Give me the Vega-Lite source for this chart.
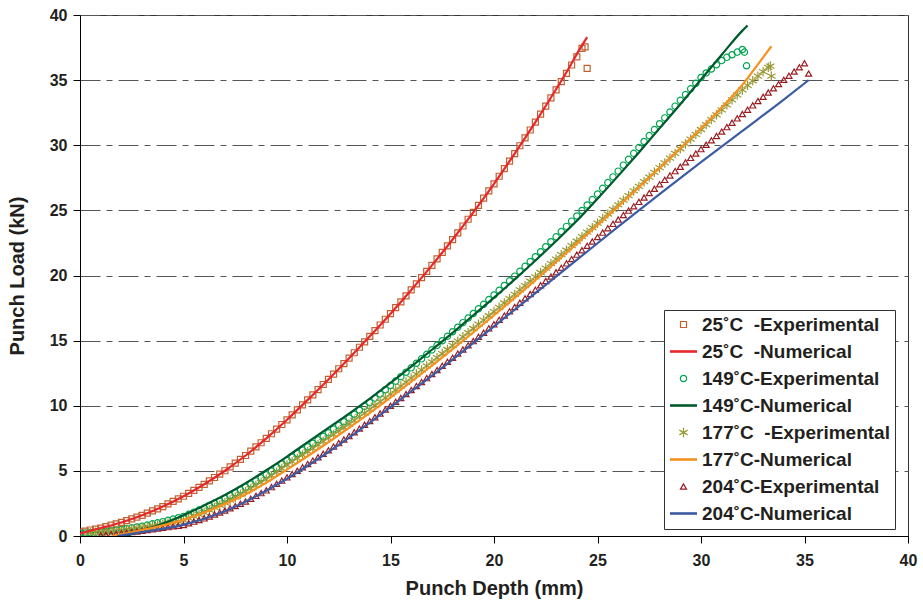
{
"$schema":"https://vega.github.io/schema/vega-lite/v6.json",
"width":828,"height":521,"autosize":"none",
"padding":{"left":80,"top":15,"right":15,"bottom":69},
"background":"white",
"config":{"font":"Liberation Sans","view":{"stroke":"#333","strokeWidth":1},
"axis":{"domainColor":"#000","tickColor":"#000","tickSize":7,"labelColor":"#231f20","titleColor":"#231f20","labelFontSize":16,"labelFontWeight":"bold","titleFontSize":20,"titleFontWeight":"bold","labelFont":"Liberation Sans","titleFont":"Liberation Sans"},
"legend":{"orient":"none","legendX":584,"legendY":295,"padding":5,"rowPadding":7,"symbolOffset":5,"labelOffset":9,"strokeColor":"#333","fillColor":"white","labelFontSize":19,"labelFontWeight":"bold","labelColor":"#231f20","labelLimit":400,"labelFont":"Liberation Sans"}},
"datasets":{
"exp":[
{"s":"a","x":0,"y":0.30},{"s":"a","x":0.25,"y":0.38},{"s":"a","x":0.5,"y":0.46},{"s":"a","x":0.75,"y":0.53},{"s":"a","x":1,"y":0.61},{"s":"a","x":1.25,"y":0.72},{"s":"a","x":1.5,"y":0.83},{"s":"a","x":1.75,"y":0.93},{"s":"a","x":2,"y":1.04},{"s":"a","x":2.25,"y":1.18},{"s":"a","x":2.5,"y":1.32},{"s":"a","x":2.75,"y":1.45},{"s":"a","x":3,"y":1.59},{"s":"a","x":3.25,"y":1.76},{"s":"a","x":3.5,"y":1.93},{"s":"a","x":3.75,"y":2.09},{"s":"a","x":4,"y":2.26},{"s":"a","x":4.25,"y":2.46},{"s":"a","x":4.5,"y":2.66},{"s":"a","x":4.75,"y":2.85},{"s":"a","x":5,"y":3.05},{"s":"a","x":5.25,"y":3.28},{"s":"a","x":5.5,"y":3.51},{"s":"a","x":5.75,"y":3.74},{"s":"a","x":6,"y":3.97},{"s":"a","x":6.25,"y":4.23},{"s":"a","x":6.5,"y":4.49},{"s":"a","x":6.75,"y":4.75},{"s":"a","x":7,"y":5.01},{"s":"a","x":7.25,"y":5.30},{"s":"a","x":7.5,"y":5.60},{"s":"a","x":7.75,"y":5.89},{"s":"a","x":8,"y":6.18},{"s":"a","x":8.25,"y":6.51},{"s":"a","x":8.5,"y":6.84},{"s":"a","x":8.75,"y":7.16},{"s":"a","x":9,"y":7.49},{"s":"a","x":9.25,"y":7.85},{"s":"a","x":9.5,"y":8.21},{"s":"a","x":9.75,"y":8.56},{"s":"a","x":10,"y":8.92},{"s":"a","x":10.25,"y":9.30},{"s":"a","x":10.5,"y":9.69},{"s":"a","x":10.75,"y":10.07},{"s":"a","x":11,"y":10.45},{"s":"a","x":11.25,"y":10.84},{"s":"a","x":11.5,"y":11.24},{"s":"a","x":11.75,"y":11.63},{"s":"a","x":12,"y":12.02},{"s":"a","x":12.25,"y":12.43},{"s":"a","x":12.5,"y":12.84},{"s":"a","x":12.75,"y":13.24},{"s":"a","x":13,"y":13.65},{"s":"a","x":13.25,"y":14.07},{"s":"a","x":13.5,"y":14.49},{"s":"a","x":13.75,"y":14.91},{"s":"a","x":14,"y":15.33},{"s":"a","x":14.25,"y":15.77},{"s":"a","x":14.5,"y":16.20},{"s":"a","x":14.75,"y":16.64},{"s":"a","x":15,"y":17.07},{"s":"a","x":15.25,"y":17.53},{"s":"a","x":15.5,"y":17.98},{"s":"a","x":15.75,"y":18.44},{"s":"a","x":16,"y":18.89},{"s":"a","x":16.25,"y":19.36},{"s":"a","x":16.5,"y":19.84},{"s":"a","x":16.75,"y":20.31},{"s":"a","x":17,"y":20.78},{"s":"a","x":17.25,"y":21.28},{"s":"a","x":17.5,"y":21.77},{"s":"a","x":17.75,"y":22.27},{"s":"a","x":18,"y":22.76},{"s":"a","x":18.25,"y":23.28},{"s":"a","x":18.5,"y":23.80},{"s":"a","x":18.75,"y":24.32},{"s":"a","x":19,"y":24.84},{"s":"a","x":19.25,"y":25.39},{"s":"a","x":19.5,"y":25.94},{"s":"a","x":19.75,"y":26.49},{"s":"a","x":20,"y":27.04},{"s":"a","x":20.25,"y":27.62},{"s":"a","x":20.5,"y":28.20},{"s":"a","x":20.75,"y":28.78},{"s":"a","x":21,"y":29.36},{"s":"a","x":21.25,"y":29.96},{"s":"a","x":21.5,"y":30.57},{"s":"a","x":21.75,"y":31.17},{"s":"a","x":22,"y":31.77},{"s":"a","x":22.25,"y":32.39},{"s":"a","x":22.5,"y":33.01},{"s":"a","x":22.75,"y":33.63},{"s":"a","x":23,"y":34.25},{"s":"a","x":23.25,"y":34.89},{"s":"a","x":23.5,"y":35.52},{"s":"a","x":23.75,"y":36.16},{"s":"a","x":24,"y":36.79},{"s":"a","x":24.25,"y":37.43},{"s":"a","x":24.4,"y":37.55},{"s":"a","x":24.5,"y":35.9},
{"s":"c","x":0,"y":0.20},{"s":"c","x":0.25,"y":0.23},{"s":"c","x":0.5,"y":0.25},{"s":"c","x":0.75,"y":0.28},{"s":"c","x":1,"y":0.30},{"s":"c","x":1.25,"y":0.35},{"s":"c","x":1.5,"y":0.40},{"s":"c","x":1.75,"y":0.45},{"s":"c","x":2,"y":0.50},{"s":"c","x":2.25,"y":0.56},{"s":"c","x":2.5,"y":0.63},{"s":"c","x":2.75,"y":0.69},{"s":"c","x":3,"y":0.75},{"s":"c","x":3.25,"y":0.84},{"s":"c","x":3.5,"y":0.93},{"s":"c","x":3.75,"y":1.01},{"s":"c","x":4,"y":1.10},{"s":"c","x":4.25,"y":1.20},{"s":"c","x":4.5,"y":1.30},{"s":"c","x":4.75,"y":1.40},{"s":"c","x":5,"y":1.50},{"s":"c","x":5.25,"y":1.66},{"s":"c","x":5.5,"y":1.83},{"s":"c","x":5.75,"y":1.99},{"s":"c","x":6,"y":2.15},{"s":"c","x":6.25,"y":2.34},{"s":"c","x":6.5,"y":2.53},{"s":"c","x":6.75,"y":2.71},{"s":"c","x":7,"y":2.90},{"s":"c","x":7.25,"y":3.11},{"s":"c","x":7.5,"y":3.33},{"s":"c","x":7.75,"y":3.54},{"s":"c","x":8,"y":3.75},{"s":"c","x":8.25,"y":3.99},{"s":"c","x":8.5,"y":4.23},{"s":"c","x":8.75,"y":4.46},{"s":"c","x":9,"y":4.70},{"s":"c","x":9.25,"y":4.98},{"s":"c","x":9.5,"y":5.25},{"s":"c","x":9.75,"y":5.53},{"s":"c","x":10,"y":5.80},{"s":"c","x":10.25,"y":6.06},{"s":"c","x":10.5,"y":6.33},{"s":"c","x":10.75,"y":6.59},{"s":"c","x":11,"y":6.85},{"s":"c","x":11.25,"y":7.12},{"s":"c","x":11.5,"y":7.39},{"s":"c","x":11.75,"y":7.66},{"s":"c","x":12,"y":7.93},{"s":"c","x":12.25,"y":8.21},{"s":"c","x":12.5,"y":8.49},{"s":"c","x":12.75,"y":8.77},{"s":"c","x":13,"y":9.05},{"s":"c","x":13.25,"y":9.35},{"s":"c","x":13.5,"y":9.65},{"s":"c","x":13.75,"y":9.95},{"s":"c","x":14,"y":10.25},{"s":"c","x":14.25,"y":10.58},{"s":"c","x":14.5,"y":10.90},{"s":"c","x":14.75,"y":11.23},{"s":"c","x":15,"y":11.55},{"s":"c","x":15.25,"y":11.89},{"s":"c","x":15.5,"y":12.23},{"s":"c","x":15.75,"y":12.57},{"s":"c","x":16,"y":12.91},{"s":"c","x":16.25,"y":13.26},{"s":"c","x":16.5,"y":13.60},{"s":"c","x":16.75,"y":13.95},{"s":"c","x":17,"y":14.29},{"s":"c","x":17.25,"y":14.64},{"s":"c","x":17.5,"y":14.99},{"s":"c","x":17.75,"y":15.33},{"s":"c","x":18,"y":15.68},{"s":"c","x":18.25,"y":16.03},{"s":"c","x":18.5,"y":16.38},{"s":"c","x":18.75,"y":16.73},{"s":"c","x":19,"y":17.08},{"s":"c","x":19.25,"y":17.44},{"s":"c","x":19.5,"y":17.79},{"s":"c","x":19.75,"y":18.15},{"s":"c","x":20,"y":18.50},{"s":"c","x":20.25,"y":18.86},{"s":"c","x":20.5,"y":19.23},{"s":"c","x":20.75,"y":19.59},{"s":"c","x":21,"y":19.95},{"s":"c","x":21.25,"y":20.32},{"s":"c","x":21.5,"y":20.70},{"s":"c","x":21.75,"y":21.07},{"s":"c","x":22,"y":21.44},{"s":"c","x":22.25,"y":21.82},{"s":"c","x":22.5,"y":22.21},{"s":"c","x":22.75,"y":22.59},{"s":"c","x":23,"y":22.97},{"s":"c","x":23.25,"y":23.37},{"s":"c","x":23.5,"y":23.77},{"s":"c","x":23.75,"y":24.17},{"s":"c","x":24,"y":24.57},{"s":"c","x":24.25,"y":24.99},{"s":"c","x":24.5,"y":25.41},{"s":"c","x":24.75,"y":25.83},{"s":"c","x":25,"y":26.25},{"s":"c","x":25.25,"y":26.69},{"s":"c","x":25.5,"y":27.13},{"s":"c","x":25.75,"y":27.57},{"s":"c","x":26,"y":28.01},{"s":"c","x":26.25,"y":28.47},{"s":"c","x":26.5,"y":28.92},{"s":"c","x":26.75,"y":29.38},{"s":"c","x":27,"y":29.83},{"s":"c","x":27.25,"y":30.29},{"s":"c","x":27.5,"y":30.74},{"s":"c","x":27.75,"y":31.20},{"s":"c","x":28,"y":31.65},{"s":"c","x":28.25,"y":32.10},{"s":"c","x":28.5,"y":32.55},{"s":"c","x":28.75,"y":33.00},{"s":"c","x":29,"y":33.45},{"s":"c","x":29.25,"y":33.89},{"s":"c","x":29.5,"y":34.33},{"s":"c","x":29.75,"y":34.76},{"s":"c","x":30,"y":35.20},{"s":"c","x":30.25,"y":35.55},{"s":"c","x":30.5,"y":35.85},{"s":"c","x":30.75,"y":36.18},{"s":"c","x":31,"y":36.50},{"s":"c","x":31.25,"y":36.75},{"s":"c","x":31.5,"y":36.95},{"s":"c","x":31.75,"y":37.15},{"s":"c","x":32,"y":37.35},{"s":"c","x":32.1,"y":37.15},{"s":"c","x":32.2,"y":36.10},
{"s":"e","x":0.5,"y":0.25},{"s":"e","x":0.75,"y":0.28},{"s":"e","x":1,"y":0.30},{"s":"e","x":1.25,"y":0.34},{"s":"e","x":1.5,"y":0.38},{"s":"e","x":1.75,"y":0.41},{"s":"e","x":2,"y":0.45},{"s":"e","x":2.25,"y":0.50},{"s":"e","x":2.5,"y":0.55},{"s":"e","x":2.75,"y":0.60},{"s":"e","x":3,"y":0.65},{"s":"e","x":3.25,"y":0.71},{"s":"e","x":3.5,"y":0.78},{"s":"e","x":3.75,"y":0.84},{"s":"e","x":4,"y":0.90},{"s":"e","x":4.25,"y":0.98},{"s":"e","x":4.5,"y":1.05},{"s":"e","x":4.75,"y":1.13},{"s":"e","x":5,"y":1.20},{"s":"e","x":5.25,"y":1.35},{"s":"e","x":5.5,"y":1.50},{"s":"e","x":5.75,"y":1.65},{"s":"e","x":6,"y":1.80},{"s":"e","x":6.25,"y":1.99},{"s":"e","x":6.5,"y":2.18},{"s":"e","x":6.75,"y":2.36},{"s":"e","x":7,"y":2.55},{"s":"e","x":7.25,"y":2.76},{"s":"e","x":7.5,"y":2.98},{"s":"e","x":7.75,"y":3.19},{"s":"e","x":8,"y":3.40},{"s":"e","x":8.25,"y":3.64},{"s":"e","x":8.5,"y":3.88},{"s":"e","x":8.75,"y":4.11},{"s":"e","x":9,"y":4.35},{"s":"e","x":9.25,"y":4.63},{"s":"e","x":9.5,"y":4.90},{"s":"e","x":9.75,"y":5.18},{"s":"e","x":10,"y":5.45},{"s":"e","x":10.25,"y":5.71},{"s":"e","x":10.5,"y":5.96},{"s":"e","x":10.75,"y":6.22},{"s":"e","x":11,"y":6.47},{"s":"e","x":11.25,"y":6.73},{"s":"e","x":11.5,"y":7.00},{"s":"e","x":11.75,"y":7.26},{"s":"e","x":12,"y":7.52},{"s":"e","x":12.25,"y":7.79},{"s":"e","x":12.5,"y":8.06},{"s":"e","x":12.75,"y":8.33},{"s":"e","x":13,"y":8.60},{"s":"e","x":13.25,"y":8.88},{"s":"e","x":13.5,"y":9.16},{"s":"e","x":13.75,"y":9.44},{"s":"e","x":14,"y":9.72},{"s":"e","x":14.25,"y":10.02},{"s":"e","x":14.5,"y":10.31},{"s":"e","x":14.75,"y":10.61},{"s":"e","x":15,"y":10.90},{"s":"e","x":15.25,"y":11.21},{"s":"e","x":15.5,"y":11.51},{"s":"e","x":15.75,"y":11.82},{"s":"e","x":16,"y":12.12},{"s":"e","x":16.25,"y":12.43},{"s":"e","x":16.5,"y":12.75},{"s":"e","x":16.75,"y":13.06},{"s":"e","x":17,"y":13.37},{"s":"e","x":17.25,"y":13.69},{"s":"e","x":17.5,"y":14.01},{"s":"e","x":17.75,"y":14.32},{"s":"e","x":18,"y":14.64},{"s":"e","x":18.25,"y":14.96},{"s":"e","x":18.5,"y":15.29},{"s":"e","x":18.75,"y":15.61},{"s":"e","x":19,"y":15.93},{"s":"e","x":19.25,"y":16.26},{"s":"e","x":19.5,"y":16.58},{"s":"e","x":19.75,"y":16.91},{"s":"e","x":20,"y":17.23},{"s":"e","x":20.25,"y":17.56},{"s":"e","x":20.5,"y":17.89},{"s":"e","x":20.75,"y":18.22},{"s":"e","x":21,"y":18.55},{"s":"e","x":21.25,"y":18.89},{"s":"e","x":21.5,"y":19.22},{"s":"e","x":21.75,"y":19.56},{"s":"e","x":22,"y":19.89},{"s":"e","x":22.25,"y":20.23},{"s":"e","x":22.5,"y":20.57},{"s":"e","x":22.75,"y":20.91},{"s":"e","x":23,"y":21.25},{"s":"e","x":23.25,"y":21.60},{"s":"e","x":23.5,"y":21.94},{"s":"e","x":23.75,"y":22.29},{"s":"e","x":24,"y":22.63},{"s":"e","x":24.25,"y":22.98},{"s":"e","x":24.5,"y":23.33},{"s":"e","x":24.75,"y":23.67},{"s":"e","x":25,"y":24.02},{"s":"e","x":25.25,"y":24.37},{"s":"e","x":25.5,"y":24.72},{"s":"e","x":25.75,"y":25.07},{"s":"e","x":26,"y":25.42},{"s":"e","x":26.25,"y":25.78},{"s":"e","x":26.5,"y":26.13},{"s":"e","x":26.75,"y":26.49},{"s":"e","x":27,"y":26.84},{"s":"e","x":27.25,"y":27.20},{"s":"e","x":27.5,"y":27.56},{"s":"e","x":27.75,"y":27.92},{"s":"e","x":28,"y":28.28},{"s":"e","x":28.25,"y":28.64},{"s":"e","x":28.5,"y":29.01},{"s":"e","x":28.75,"y":29.37},{"s":"e","x":29,"y":29.73},{"s":"e","x":29.25,"y":30.10},{"s":"e","x":29.5,"y":30.47},{"s":"e","x":29.75,"y":30.84},{"s":"e","x":30,"y":31.21},{"s":"e","x":30.25,"y":31.59},{"s":"e","x":30.5,"y":31.97},{"s":"e","x":30.75,"y":32.34},{"s":"e","x":31,"y":32.72},{"s":"e","x":31.25,"y":33.10},{"s":"e","x":31.5,"y":33.49},{"s":"e","x":31.75,"y":33.87},{"s":"e","x":32,"y":34.25},{"s":"e","x":32.25,"y":34.60},{"s":"e","x":32.5,"y":34.95},{"s":"e","x":32.75,"y":35.30},{"s":"e","x":33,"y":35.65},{"s":"e","x":33.25,"y":35.98},{"s":"e","x":33.35,"y":36.08},{"s":"e","x":33.4,"y":35.30},
{"s":"g","x":1,"y":0.05},{"s":"g","x":1.25,"y":0.09},{"s":"g","x":1.5,"y":0.13},{"s":"g","x":1.75,"y":0.16},{"s":"g","x":2,"y":0.20},{"s":"g","x":2.25,"y":0.25},{"s":"g","x":2.5,"y":0.30},{"s":"g","x":2.75,"y":0.35},{"s":"g","x":3,"y":0.40},{"s":"g","x":3.25,"y":0.46},{"s":"g","x":3.5,"y":0.51},{"s":"g","x":3.75,"y":0.57},{"s":"g","x":4,"y":0.62},{"s":"g","x":4.25,"y":0.68},{"s":"g","x":4.5,"y":0.74},{"s":"g","x":4.75,"y":0.79},{"s":"g","x":5,"y":0.85},{"s":"g","x":5.25,"y":0.98},{"s":"g","x":5.5,"y":1.10},{"s":"g","x":5.75,"y":1.23},{"s":"g","x":6,"y":1.35},{"s":"g","x":6.25,"y":1.50},{"s":"g","x":6.5,"y":1.65},{"s":"g","x":6.75,"y":1.80},{"s":"g","x":7,"y":1.95},{"s":"g","x":7.25,"y":2.13},{"s":"g","x":7.5,"y":2.30},{"s":"g","x":7.75,"y":2.48},{"s":"g","x":8,"y":2.65},{"s":"g","x":8.25,"y":2.86},{"s":"g","x":8.5,"y":3.08},{"s":"g","x":8.75,"y":3.29},{"s":"g","x":9,"y":3.50},{"s":"g","x":9.25,"y":3.75},{"s":"g","x":9.5,"y":4.00},{"s":"g","x":9.75,"y":4.25},{"s":"g","x":10,"y":4.50},{"s":"g","x":10.25,"y":4.76},{"s":"g","x":10.5,"y":5.01},{"s":"g","x":10.75,"y":5.27},{"s":"g","x":11,"y":5.52},{"s":"g","x":11.25,"y":5.79},{"s":"g","x":11.5,"y":6.05},{"s":"g","x":11.75,"y":6.32},{"s":"g","x":12,"y":6.58},{"s":"g","x":12.25,"y":6.86},{"s":"g","x":12.5,"y":7.13},{"s":"g","x":12.75,"y":7.41},{"s":"g","x":13,"y":7.68},{"s":"g","x":13.25,"y":7.97},{"s":"g","x":13.5,"y":8.25},{"s":"g","x":13.75,"y":8.54},{"s":"g","x":14,"y":8.82},{"s":"g","x":14.25,"y":9.12},{"s":"g","x":14.5,"y":9.41},{"s":"g","x":14.75,"y":9.71},{"s":"g","x":15,"y":10.00},{"s":"g","x":15.25,"y":10.30},{"s":"g","x":15.5,"y":10.60},{"s":"g","x":15.75,"y":10.90},{"s":"g","x":16,"y":11.20},{"s":"g","x":16.25,"y":11.51},{"s":"g","x":16.5,"y":11.82},{"s":"g","x":16.75,"y":12.12},{"s":"g","x":17,"y":12.43},{"s":"g","x":17.25,"y":12.74},{"s":"g","x":17.5,"y":13.06},{"s":"g","x":17.75,"y":13.37},{"s":"g","x":18,"y":13.68},{"s":"g","x":18.25,"y":14.00},{"s":"g","x":18.5,"y":14.32},{"s":"g","x":18.75,"y":14.64},{"s":"g","x":19,"y":14.96},{"s":"g","x":19.25,"y":15.29},{"s":"g","x":19.5,"y":15.61},{"s":"g","x":19.75,"y":15.94},{"s":"g","x":20,"y":16.26},{"s":"g","x":20.25,"y":16.59},{"s":"g","x":20.5,"y":16.92},{"s":"g","x":20.75,"y":17.25},{"s":"g","x":21,"y":17.58},{"s":"g","x":21.25,"y":17.91},{"s":"g","x":21.5,"y":18.25},{"s":"g","x":21.75,"y":18.58},{"s":"g","x":22,"y":18.91},{"s":"g","x":22.25,"y":19.25},{"s":"g","x":22.5,"y":19.58},{"s":"g","x":22.75,"y":19.92},{"s":"g","x":23,"y":20.25},{"s":"g","x":23.25,"y":20.59},{"s":"g","x":23.5,"y":20.93},{"s":"g","x":23.75,"y":21.26},{"s":"g","x":24,"y":21.60},{"s":"g","x":24.25,"y":21.94},{"s":"g","x":24.5,"y":22.28},{"s":"g","x":24.75,"y":22.61},{"s":"g","x":25,"y":22.95},{"s":"g","x":25.25,"y":23.29},{"s":"g","x":25.5,"y":23.63},{"s":"g","x":25.75,"y":23.96},{"s":"g","x":26,"y":24.30},{"s":"g","x":26.25,"y":24.64},{"s":"g","x":26.5,"y":24.98},{"s":"g","x":26.75,"y":25.31},{"s":"g","x":27,"y":25.65},{"s":"g","x":27.25,"y":25.99},{"s":"g","x":27.5,"y":26.33},{"s":"g","x":27.75,"y":26.66},{"s":"g","x":28,"y":27.00},{"s":"g","x":28.25,"y":27.34},{"s":"g","x":28.5,"y":27.68},{"s":"g","x":28.75,"y":28.01},{"s":"g","x":29,"y":28.35},{"s":"g","x":29.25,"y":28.69},{"s":"g","x":29.5,"y":29.03},{"s":"g","x":29.75,"y":29.36},{"s":"g","x":30,"y":29.70},{"s":"g","x":30.25,"y":30.04},{"s":"g","x":30.5,"y":30.38},{"s":"g","x":30.75,"y":30.71},{"s":"g","x":31,"y":31.05},{"s":"g","x":31.25,"y":31.39},{"s":"g","x":31.5,"y":31.73},{"s":"g","x":31.75,"y":32.06},{"s":"g","x":32,"y":32.40},{"s":"g","x":32.25,"y":32.73},{"s":"g","x":32.5,"y":33.06},{"s":"g","x":32.75,"y":33.39},{"s":"g","x":33,"y":33.72},{"s":"g","x":33.25,"y":34.05},{"s":"g","x":33.5,"y":34.37},{"s":"g","x":33.75,"y":34.70},{"s":"g","x":34,"y":35.02},{"s":"g","x":34.25,"y":35.34},{"s":"g","x":34.5,"y":35.66},{"s":"g","x":34.75,"y":35.98},{"s":"g","x":35,"y":36.30},{"s":"g","x":35.2,"y":35.50}
],
"num":[
{"s":"b","x":0,"y":0.2},{"s":"b","x":1,"y":0.61},{"s":"b","x":2,"y":1.04},{"s":"b","x":3,"y":1.59},{"s":"b","x":4,"y":2.26},{"s":"b","x":5,"y":3.05},{"s":"b","x":6,"y":3.97},{"s":"b","x":7,"y":5.01},{"s":"b","x":8,"y":6.18},{"s":"b","x":9,"y":7.49},{"s":"b","x":10,"y":8.92},{"s":"b","x":11,"y":10.45},{"s":"b","x":12,"y":12.02},{"s":"b","x":13,"y":13.65},{"s":"b","x":14,"y":15.33},{"s":"b","x":15,"y":17.07},{"s":"b","x":16,"y":18.89},{"s":"b","x":17,"y":20.78},{"s":"b","x":18,"y":22.76},{"s":"b","x":19,"y":24.84},{"s":"b","x":20,"y":27.04},{"s":"b","x":21,"y":29.36},{"s":"b","x":22,"y":31.77},{"s":"b","x":23,"y":34.3},{"s":"b","x":23.5,"y":35.6},{"s":"b","x":24,"y":37.0},{"s":"b","x":24.5,"y":38.3},
{"s":"d","x":2.2,"y":0},{"s":"d","x":3,"y":0.4},{"s":"d","x":4,"y":0.95},{"s":"d","x":5,"y":1.6},{"s":"d","x":6,"y":2.35},{"s":"d","x":7,"y":3.15},{"s":"d","x":8,"y":4.05},{"s":"d","x":9,"y":5.05},{"s":"d","x":10,"y":6.1},{"s":"d","x":11,"y":7.2},{"s":"d","x":12,"y":8.3},{"s":"d","x":13,"y":9.4},{"s":"d","x":14,"y":10.55},{"s":"d","x":15,"y":11.75},{"s":"d","x":16,"y":13.0},{"s":"d","x":17,"y":14.3},{"s":"d","x":18,"y":15.6},{"s":"d","x":19,"y":16.95},{"s":"d","x":20,"y":18.3},{"s":"d","x":21,"y":19.7},{"s":"d","x":22,"y":21.15},{"s":"d","x":23,"y":22.65},{"s":"d","x":24,"y":24.2},{"s":"d","x":25,"y":25.9},{"s":"d","x":26,"y":27.65},{"s":"d","x":27,"y":29.45},{"s":"d","x":28,"y":31.3},{"s":"d","x":29,"y":33.15},{"s":"d","x":30,"y":35.05},{"s":"d","x":31,"y":36.95},{"s":"d","x":32,"y":38.8},{"s":"d","x":32.25,"y":39.2},
{"s":"f","x":1.6,"y":0},{"s":"f","x":2,"y":0.12},{"s":"f","x":3,"y":0.45},{"s":"f","x":4,"y":0.82},{"s":"f","x":5,"y":1.25},{"s":"f","x":6,"y":1.8},{"s":"f","x":7,"y":2.45},{"s":"f","x":8,"y":3.2},{"s":"f","x":9,"y":4.1},{"s":"f","x":10,"y":5.1},{"s":"f","x":12,"y":7.2},{"s":"f","x":14,"y":9.45},{"s":"f","x":16,"y":11.85},{"s":"f","x":18,"y":14.35},{"s":"f","x":20,"y":16.95},{"s":"f","x":22,"y":19.65},{"s":"f","x":24,"y":22.45},{"s":"f","x":26,"y":25.3},{"s":"f","x":28,"y":28.25},{"s":"f","x":30,"y":31.3},{"s":"f","x":31,"y":32.9},{"s":"f","x":32,"y":34.65},{"s":"f","x":33,"y":36.75},{"s":"f","x":33.4,"y":37.6},
{"s":"h","x":1.8,"y":0},{"s":"h","x":3,"y":0.3},{"s":"h","x":5,"y":0.85},{"s":"h","x":7,"y":1.9},{"s":"h","x":10,"y":4.4},{"s":"h","x":12,"y":6.45},{"s":"h","x":14,"y":8.7},{"s":"h","x":16,"y":11.1},{"s":"h","x":18,"y":13.55},{"s":"h","x":20,"y":16.1},{"s":"h","x":22,"y":18.65},{"s":"h","x":24,"y":21.2},{"s":"h","x":26,"y":23.75},{"s":"h","x":28,"y":26.25},{"s":"h","x":30,"y":28.7},{"s":"h","x":32,"y":31.1},{"s":"h","x":34,"y":33.5},{"s":"h","x":35.2,"y":35.0}
]},
"encoding":{
"x":{"field":"x","type":"quantitative","scale":{"domain":[0,40],"nice":false},"axis":{"title":"Punch Depth (mm)","values":[0,5,10,15,20,25,30,35,40],"grid":false,"labelPadding":9,"titlePadding":10,"labelFlush":false}},
"y":{"field":"y","type":"quantitative","scale":{"domain":[0,40],"nice":false},"axis":{"title":"Punch Load (kN)","values":[0,5,10,15,20,25,30,35,40],"grid":true,"gridColor":"#555","gridDash":[20,6,6,6],"gridWidth":1,"labelPadding":6,"titlePadding":22,"labelFlush":false}},
"color":{"field":"s","type":"nominal","scale":{"domain":["a","b","c","d","e","f","g","h"],"range":["#c0622f","#e8262b","#00a651","#005a2b","#999933","#f7901e","#9b1c20","#3b5ba5"]},"legend":{"title":null,"labelExpr":"{'a':'25˚C\u00a0 -Experimental','b':'25˚C\u00a0 -Numerical','c':'149˚C-Experimental','d':'149˚C-Numerical','e':'177˚C\u00a0 -Experimental','f':'177˚C-Numerical','g':'204˚C-Experimental','h':'204˚C-Numerical'}[datum.label]"}}
},
"layer":[
{"data":{"name":"exp"},"mark":{"type":"point","filled":false,"clip":true,"opacity":1},
"encoding":{
"shape":{"field":"s","type":"nominal","scale":{"domain":["a","b","c","d","e","f","g","h"],"range":["square","M-4.5,0L4.5,0","circle","M-4.5,0L4.5,0","M0,-1L0,1M-0.87,-0.5L0.87,0.5M-0.87,0.5L0.87,-0.5","M-4.5,0L4.5,0","triangle-up","M-4.5,0L4.5,0"]},"legend":{"title":null,"labelExpr":"{'a':'25˚C\u00a0 -Experimental','b':'25˚C\u00a0 -Numerical','c':'149˚C-Experimental','d':'149˚C-Numerical','e':'177˚C\u00a0 -Experimental','f':'177˚C-Numerical','g':'204˚C-Experimental','h':'204˚C-Numerical'}[datum.label]"}},
"size":{"field":"s","type":"nominal","scale":{"type":"ordinal","domain":["a","b","c","d","e","f","g","h"],"range":[36,36,40,36,90,36,36,36]},"legend":{"title":null,"labelExpr":"{'a':'25˚C\u00a0 -Experimental','b':'25˚C\u00a0 -Numerical','c':'149˚C-Experimental','d':'149˚C-Numerical','e':'177˚C\u00a0 -Experimental','f':'177˚C-Numerical','g':'204˚C-Experimental','h':'204˚C-Numerical'}[datum.label]"}},
"strokeWidth":{"field":"s","type":"nominal","scale":{"type":"ordinal","domain":["a","b","c","d","e","f","g","h"],"range":[1.2,2.6,1.2,2.6,1.2,2.6,1.2,2.6]},"legend":{"title":null,"labelExpr":"{'a':'25˚C\u00a0 -Experimental','b':'25˚C\u00a0 -Numerical','c':'149˚C-Experimental','d':'149˚C-Numerical','e':'177˚C\u00a0 -Experimental','f':'177˚C-Numerical','g':'204˚C-Experimental','h':'204˚C-Numerical'}[datum.label]"}}
}},
{"data":{"name":"num"},"mark":{"type":"line","clip":true,"strokeWidth":2.2,"interpolate":"monotone"},"encoding":{}}
]
}
